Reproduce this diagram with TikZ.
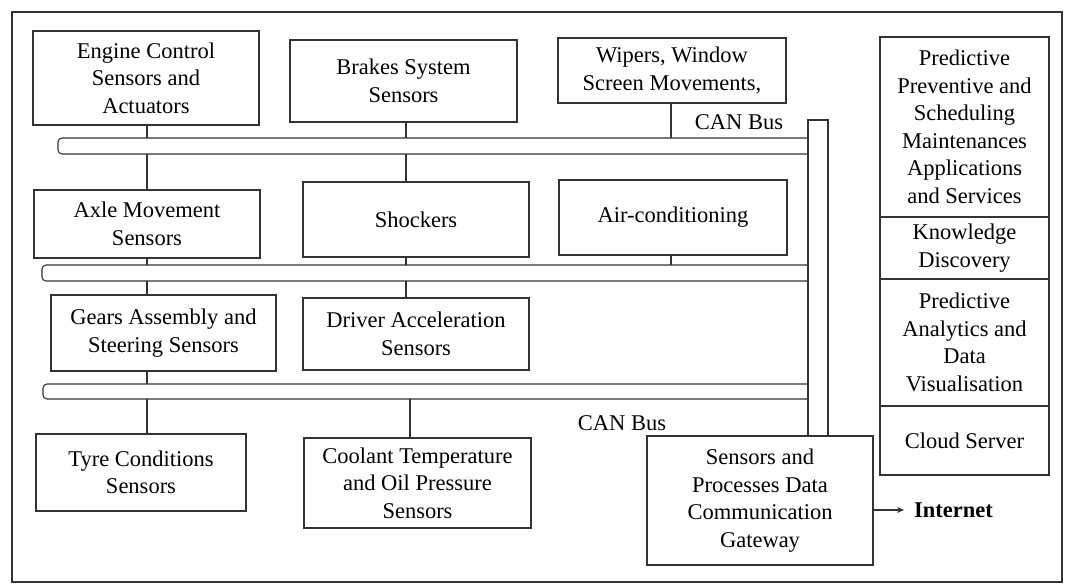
\documentclass[tikz,border=0pt]{standalone}
\usepackage{fontspec}
\setmainfont{Liberation Serif}
\usetikzlibrary{arrows.meta}
\begin{document}
\begin{tikzpicture}[x=1pt,y=-1pt,
  lw/.style={line width=1.1pt, draw=black!80},
  box/.style={lw, rectangle, align=center, inner sep=2pt, font=\fontsize{22.5}{27.5}\selectfont},
  lbl/.style={font=\fontsize{22.5}{27.5}\selectfont, inner sep=0pt},
  busshape/.style={rectangle, inner sep=0pt, outer sep=0pt, anchor=north west},
  con/.style={lw}]
\useasboundingbox (0,0) rectangle (1071,585);
\fill[white] (0,0) rectangle (1071,585);
\node[draw=black!80, line width=1.4pt, minimum width=1050, minimum height=570, anchor=north west, inner sep=0pt, outer sep=0pt] (frame) at (12,12) {};

% sensor boxes
\node[box, minimum width=226, minimum height=94] (eng) at (146,78) {Engine Control\\Sensors and\\Actuators};
\node[box, minimum width=227, minimum height=82] (brk) at (403.5,81) {Brakes System\\Sensors};
\node[box, minimum width=228, minimum height=65] (wip) at (672,70.5) {Wipers, Window\\Screen Movements,};
\node[box, minimum width=226, minimum height=68] (axl) at (147,224) {Axle Movement\\Sensors};
\node[box, minimum width=226, minimum height=75] (shk) at (416,219.5) {Shockers};
\node[box, minimum width=228, minimum height=75] (air) at (673,217.5) {Air-conditioning};
\node[box, minimum width=225, minimum height=76] (gea) at (163.5,333) {Gears Assembly and\\Steering Sensors};
\node[box, minimum width=226, minimum height=72] (drv) at (416,334) {Driver Acceleration\\Sensors};
\node[box, minimum width=210, minimum height=77] (tyr) at (141,472.5) {Tyre Conditions\\Sensors};
\node[box, minimum width=227, minimum height=90] (col) at (417.5,483) {Coolant Temperature\\and Oil Pressure\\Sensors};
\node[box, minimum width=226, minimum height=129] (gw) at (760,500.5) {Sensors and\\Processes Data\\Communication\\Gateway};

% cloud column
\node[box, minimum width=169, minimum height=180] (pm) at (964.5,127) {Predictive\\Preventive and\\Scheduling\\Maintenances\\Applications\\and Services};
\node[box, minimum width=169, minimum height=62] (kd) at (964.5,248) {Knowledge\\Discovery};
\node[box, minimum width=169, minimum height=127] (pa) at (964.5,342.5) {Predictive\\Analytics and\\Data\\Visualisation};
\node[box, minimum width=169, minimum height=69] (cs) at (964.5,440.5) {Cloud Server};

% CAN buses
\node[busshape, minimum width=750, minimum height=16] (bus1) at (58,138) {};
\node[busshape, minimum width=766, minimum height=16] (bus2) at (42,265) {};
\node[busshape, minimum width=765, minimum height=15] (bus3) at (43,384) {};
\foreach \b in {bus1,bus2,bus3}
  \draw[lw, rounded corners=4pt] (\b.north east) -- (\b.north west) -- (\b.south west) -- (\b.south east);
\node[busshape, lw, minimum width=20, minimum height=316] (trunk) at (808,120) {};

\node[lbl] (canup) at (739,122) {CAN Bus};
\node[lbl] (canlo) at (622,423) {CAN Bus};

% connector columns
\coordinate (c1) at (147,0);
\coordinate (c2) at (406,0);
\coordinate (c3) at (410,0);
\coordinate (c4) at (671,0);

\draw[con] (eng.south -| c1) -- (c1 |- bus1.north);
\draw[con] (c1 |- bus1.south) -- (c1 |- axl.north);
\draw[con] (axl.south -| c1) -- (c1 |- bus2.north);
\draw[con] (c1 |- bus2.south) -- (c1 |- gea.north);
\draw[con] (gea.south -| c1) -- (c1 |- bus3.north);
\draw[con] (c1 |- bus3.south) -- (c1 |- tyr.north);

\draw[con] (brk.south -| c2) -- (c2 |- bus1.north);
\draw[con] (c2 |- bus1.south) -- (c2 |- shk.north);
\draw[con] (shk.south -| c2) -- (c2 |- bus2.north);
\draw[con] (c2 |- bus2.south) -- (c2 |- drv.north);
\draw[con] (c3 |- bus3.south) -- (c3 |- col.north);

\draw[con] (wip.south -| c4) -- (c4 |- bus1.north);
\draw[con] (air.south -| c4) -- (c4 |- bus2.north);

% internet
\node[lbl, font=\fontsize{22.5}{27.5}\selectfont\bfseries, anchor=west] (inet) at (914,510) {Internet};
\draw[lw, -{Stealth[length=7pt,width=6pt]}] (gw.east |- inet.west) -- ([xshift=-10pt]inet.west);
\end{tikzpicture}
\end{document}
